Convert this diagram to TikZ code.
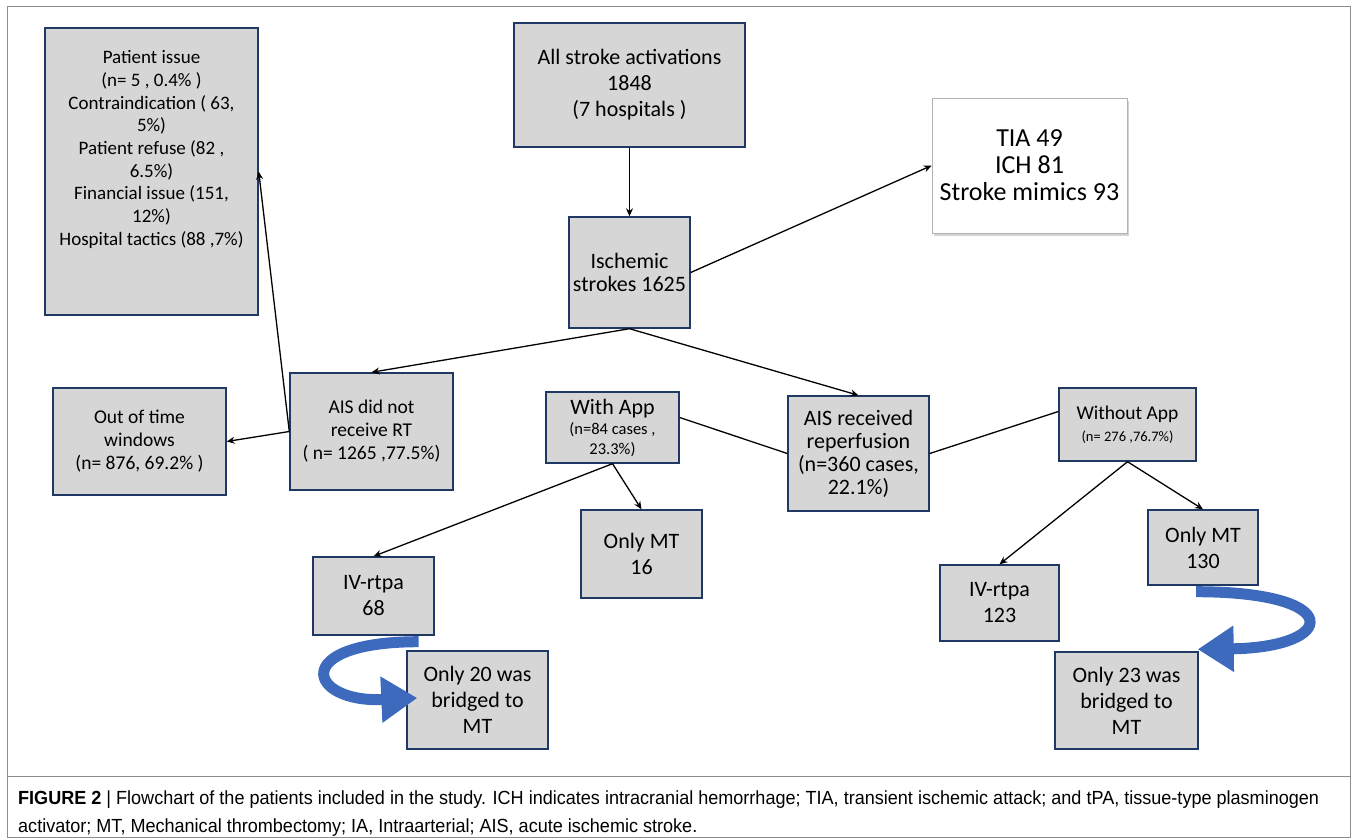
\documentclass[tikz,border=0pt]{standalone}
\usepackage{fontspec}
\setmainfont{Carlito}
\newfontfamily\capfont[FakeStretch=0.95]{Liberation Sans}
\usetikzlibrary{arrows.meta,shadows}
\definecolor{boxfill}{RGB}{214,214,214}
\definecolor{boxline}{RGB}{31,56,100}
\definecolor{bendblue}{RGB}{62,106,190}
\definecolor{framegray}{RGB}{140,140,140}

\begin{document}
\begin{tikzpicture}[x=1pt,y=-1pt,>={Stealth[length=8pt,width=7pt]},
  box/.style={draw=boxline, fill=boxfill, line width=1.4pt, align=center, inner sep=2pt, font=\fontsize{19.5}{23}\selectfont},
  big/.style={font=\fontsize{22}{26}\selectfont},
  link/.style={->, line width=1.3pt},
  bendarrow/.style={draw=bendblue, line width=11pt, -{Triangle[length=36pt,width=44pt]}}]

 \useasboundingbox (0,0) rectangle (1357,839);
 \draw[framegray, line width=0.8pt] (7,6) rectangle (1350,837);
 \draw[framegray, line width=0.8pt] (7,776) -- (1350,776);

 % top of the chart
 \node[box, minimum width=213pt, minimum height=287pt, text depth=47pt, font=\fontsize{19}{22.7}\selectfont] (reasons) at (151.5,171.5) {Patient issue\\(n= 5 , 0.4\% )\\Contraindication ( 63,\\5\%)\\Patient refuse (82 ,\\6.5\%)\\Financial issue (151,\\12\%)\\Hospital tactics (88 ,7\%)};
 \node[box, minimum width=231pt, minimum height=124pt, font=\fontsize{22}{26}\selectfont] (start) at (629.5,85) {All stroke activations\\1848\\(7 hospitals )};
 \node[box, minimum width=121pt, minimum height=111pt, font=\fontsize{22}{23}\selectfont] (isch) at (629.5,272.5) {Ischemic\\strokes 1625};
 \node[draw=gray!60, fill=white, line width=0.6pt, drop shadow={shadow xshift=2pt,shadow yshift=-3pt,opacity=0.35}, align=center, minimum width=195pt, minimum height=135pt, font=\fontsize{26}{27}\selectfont] (excl) at (1029.5,165.5) {TIA 49\\ICH 81\\Stroke mimics 93};

 % middle row
 \node[box, minimum width=173pt, minimum height=107pt] (outwin) at (139.5,441.5) {Out of time\\windows\\(n= 876, 69.2\% )};
 \node[box, minimum width=163pt, minimum height=117pt] (norect) at (371.5,431.5) {AIS did not\\receive RT\\( n= 1265 ,77.5\%)};
 \node[box, minimum width=133pt, minimum height=71pt, font=\fontsize{16.5}{20}\selectfont] (withapp) at (612.5,427.5) {{\fontsize{22}{24}\selectfont With App}\\(n=84 cases ,\\23.3\%)};
 \node[box, minimum width=141pt, minimum height=115pt, font=\fontsize{22}{23}\selectfont] (reperf) at (858.5,453.5) {AIS received\\reperfusion\\(n=360 cases,\\22.1\%)};
 \node[box, minimum width=137pt, minimum height=73pt, font=\fontsize{14.5}{22}\selectfont] (woapp) at (1127.5,424.5) {{\fontsize{19.5}{23}\selectfont Without App}\\(n= 276 ,76.7\%)};

 % treatments
 \node[box, big, minimum width=121pt, minimum height=88pt] (mt16) at (641.5,554) {Only MT\\16};
 \node[box, big, minimum width=121pt, minimum height=78pt] (iv68) at (373.5,596) {IV-rtpa\\68};
 \node[box, big, minimum width=141pt, minimum height=98pt] (br20) at (477.5,700) {Only 20 was\\bridged to\\MT};
 \node[box, big, minimum width=110pt, minimum height=75pt] (mt130) at (1203,547.5) {Only MT\\130};
 \node[box, big, minimum width=119pt, minimum height=76pt] (iv123) at (999.5,603) {IV-rtpa\\123};
 \node[box, big, minimum width=143pt, minimum height=97pt] (br23) at (1126.5,700.5) {Only 23 was\\bridged to\\MT};

 \draw[link] (start) -- (isch);
 \draw[link] (isch.east) -- (excl.west);
 \draw[link] (isch.south) -- (norect.north);
 \draw[link] (isch.south) -- (reperf.north);
 \draw[link] (norect.west) -- (outwin.east);
 \draw[link] (norect.west) -- (reasons.east);
 \draw[line width=1.3pt] (reperf.west) -- ([yshift=10pt]withapp.east);
 \draw[line width=1.3pt] (reperf.east) -- ([yshift=13pt]woapp.west);
 \draw[link] (withapp.south) -- (mt16.north);
 \draw[link] (withapp.south) -- (iv68.north);
 \draw[link] (woapp.south) -- (iv123.north);
 \draw[link] (woapp.south) -- (mt130.north);

 % blue bridging arrows
 \draw[bendarrow] ([xshift=-16pt,yshift=-6pt]iv68.south east) .. controls +(-130,0) and +(-110,5) .. ([xshift=11pt,yshift=2pt]br20.west);
 \draw[bendarrow] ([xshift=-7pt,yshift=-6pt]mt130.south) .. controls +(150,0) and +(140,-2) .. ([xshift=-1pt,yshift=2pt]br23.north east);

 % caption
 \node[anchor=base west, inner sep=0pt, font=\capfont\fontsize{19}{22}\selectfont] (cap1) at (18,804) {\textbf{FIGURE 2} | Flowchart of the patients included in the study. ICH indicates intracranial hemorrhage; TIA, transient ischemic attack; and tPA, tissue-type plasminogen};
 \node[anchor=base west, inner sep=0pt, font=\capfont\fontsize{19}{22}\selectfont] (cap2) at (18,832) {activator; MT, Mechanical thrombectomy; IA, Intraarterial; AIS, acute ischemic stroke.};

\end{tikzpicture}
\end{document}
